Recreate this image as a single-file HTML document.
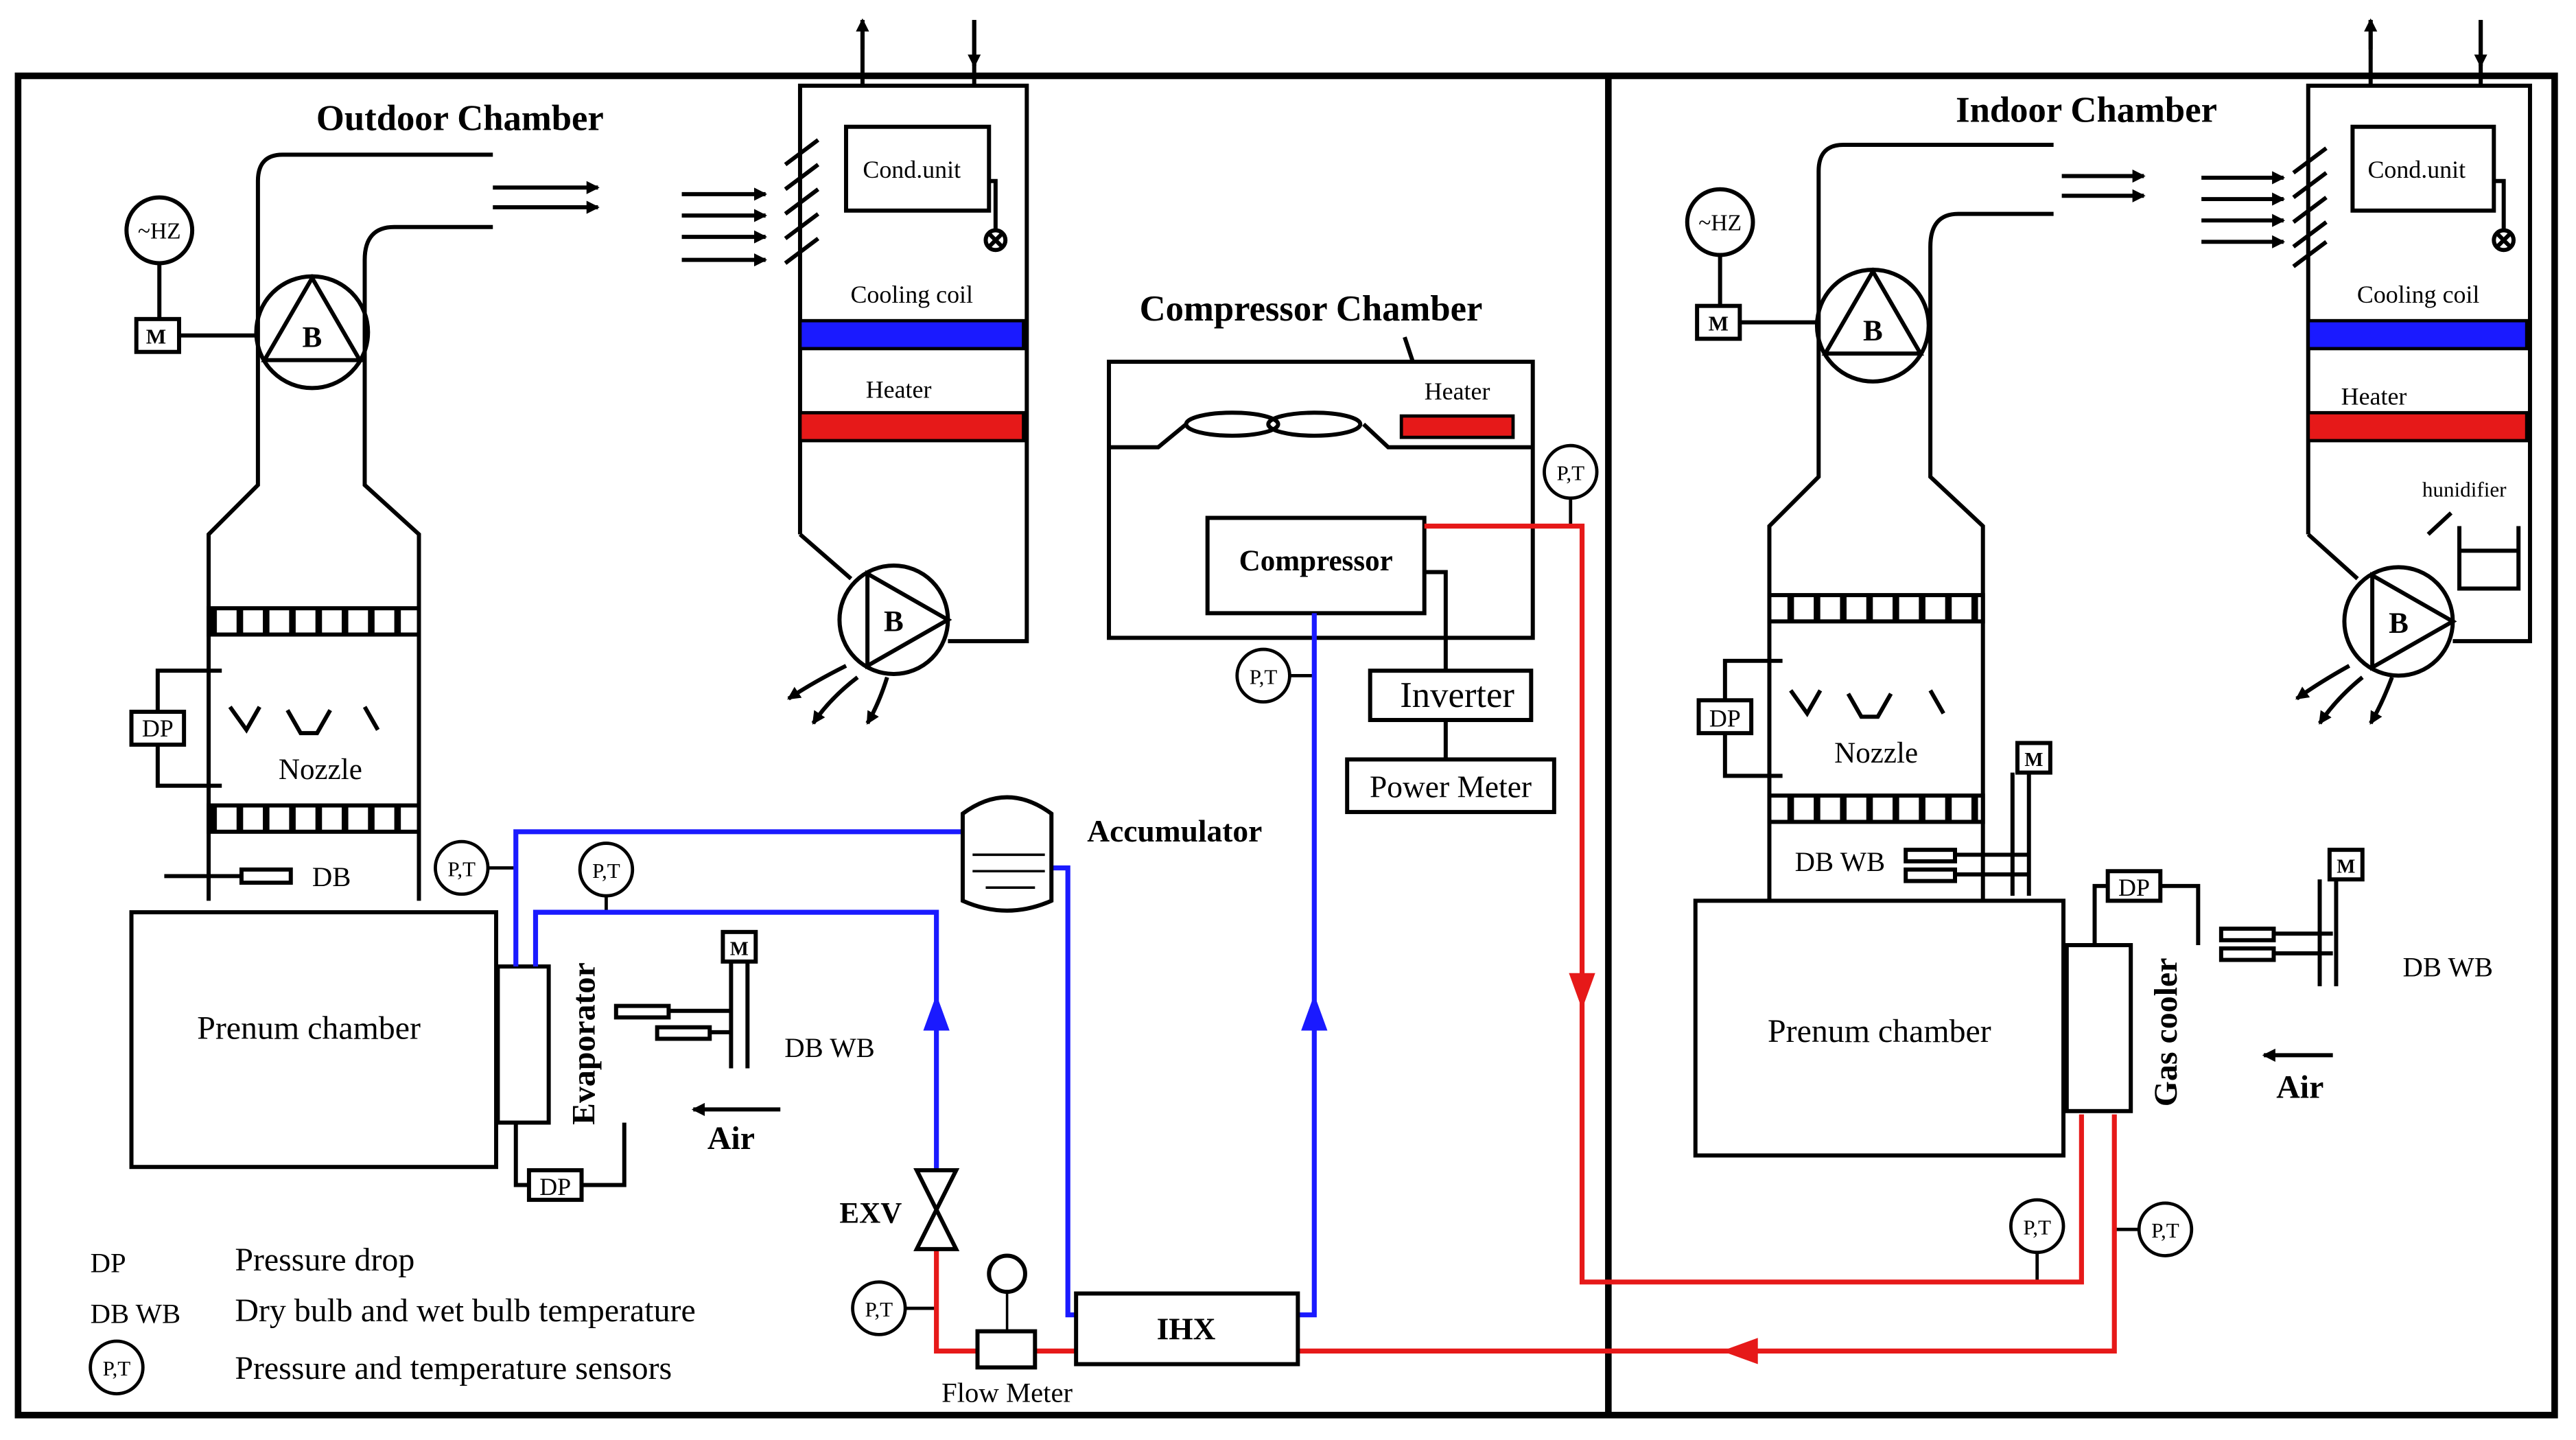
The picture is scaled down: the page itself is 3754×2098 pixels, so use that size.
<!DOCTYPE html>
<html><head><meta charset="utf-8"><style>
html,body{margin:0;padding:0;background:#fff}
svg{display:block}
text{font-family:"Liberation Serif",serif;fill:#000}
.b{font-weight:bold}
</style></head><body>
<svg width="3754" height="2098" viewBox="0 0 1568 876" xmlns="http://www.w3.org/2000/svg">
<defs>
<marker id="ab" markerWidth="8" markerHeight="8" refX="7" refY="4" orient="auto" markerUnits="userSpaceOnUse"><path d="M0,0 L8,4 L0,8 z" fill="#000"/></marker>
<pattern id="grid" width="16" height="16" patternUnits="userSpaceOnUse"><rect width="16" height="16" fill="#fff"/><rect x="0" y="0" width="4" height="16" fill="#000"/></pattern>
</defs>
<g fill="none" stroke="#000" stroke-width="2.5">
<rect x="11" y="46" width="1544" height="815" stroke-width="4"/>
<line x1="979" y1="46" x2="979" y2="861" stroke-width="4"/>
</g>

<!-- OUTDOOR -->
<text x="280" y="79" font-size="22" text-anchor="middle" class="b">Outdoor Chamber</text>
<g fill="none" stroke="#000" stroke-width="2.5">
<path d="M300,94 H172 Q157,94 157,110 V295 L127,325 V548"/>
<path d="M300,138 H240 Q222,138 222,158 V295 L255,325 V548"/>
<circle cx="190" cy="202" r="34"/>
<path d="M190,169 L161,219 L219,219 Z"/>
<circle cx="97" cy="140" r="20"/>
<line x1="97" y1="160" x2="97" y2="194"/>
<rect x="83" y="194" width="26" height="20"/>
<line x1="109" y1="204" x2="156" y2="204"/>
<rect x="127" y="370" width="128" height="16" fill="url(#grid)"/>
<rect x="127" y="490" width="128" height="16" fill="url(#grid)"/>
<path d="M140,430 l10,14 l8,-14 M175,432 l8,14 h10 l8,-14 M222,430 l8,14"/>
<rect x="80" y="433" width="32" height="20"/>
<path d="M96,433 V408 H135 M96,453 V478 H135"/>
<line x1="100" y1="533" x2="147" y2="533"/>
<rect x="147" y="529" width="30" height="8"/>
<rect x="80" y="555" width="222" height="155"/>
<rect x="303" y="588" width="31" height="95"/>
<rect x="322" y="712" width="32" height="18"/>
<path d="M322,721 H314 V683 M354,721 H380 V683"/>
<rect x="375" y="612" width="32" height="7"/><rect x="400" y="625" width="32" height="7"/>
<path d="M407,615 H445 M432,628 H445 M445,585 V650 M455,585 V650"/>
<rect x="440" y="567" width="20" height="18"/>
</g>
<line x1="475" y1="675" x2="422" y2="675" stroke="#000" stroke-width="2.5" marker-end="url(#ab)"/>
<text x="195" y="474" font-size="18" text-anchor="middle">Nozzle</text>
<text x="190" y="539" font-size="17">DB</text>
<text x="96" y="448" font-size="15" text-anchor="middle">DP</text>
<text x="95" y="209" font-size="13" text-anchor="middle" class="b">M</text>
<text x="97" y="145" font-size="14" text-anchor="middle">~HZ</text>
<text x="190" y="211" font-size="18" text-anchor="middle" class="b">B</text>
<text x="188" y="632" font-size="20" text-anchor="middle">Prenum chamber</text>
<text x="362" y="635" font-size="20" text-anchor="middle" class="b" transform="rotate(-90 362 635)">Evaporator</text>
<text x="338" y="727" font-size="15" text-anchor="middle">DP</text>
<text x="450" y="581" font-size="12" text-anchor="middle" class="b">M</text>
<text x="505" y="643" font-size="17" text-anchor="middle">DB WB</text>
<text x="445" y="699" font-size="20" text-anchor="middle" class="b">Air</text>

<!-- legend -->
<text x="55" y="774" font-size="17">DP</text>
<text x="143" y="773" font-size="20">Pressure drop</text>
<text x="55" y="805" font-size="17">DB WB</text>
<text x="143" y="804" font-size="20">Dry bulb and wet bulb temperature</text>
<circle cx="71" cy="832" r="16" fill="none" stroke="#000" stroke-width="2"/>
<text x="71" y="837" font-size="13" text-anchor="middle">P,T</text>
<text x="143" y="839" font-size="20">Pressure and temperature sensors</text>

<!-- cond unit 1 -->
<g fill="none" stroke="#000" stroke-width="2.5">
<path d="M487,325 V52 H625 V390 H577"/>
<path d="M487,325 L518,352"/>
<rect x="515" y="77" width="87" height="51"/>
<path d="M602,110 H606 V140"/>
<circle cx="606" cy="146" r="6"/><path d="M602,142 l8,8 M610,142 l-8,8"/>
<circle cx="544" cy="377" r="33"/>
<path d="M577,377 L528,349 L528,405 Z"/>
<path d="M478,100 l20,-15 M478,115 l20,-15 M478,130 l20,-15 M478,145 l20,-15 M478,160 l20,-15"/>
<path d="M525,52 V12 M593,52 V12"/>
</g>
<path d="M525,30 V12" stroke="#000" stroke-width="2.5" marker-end="url(#ab)"/>
<path d="M593,12 V40" stroke="#000" stroke-width="2.5" marker-end="url(#ab)"/>
<rect x="487" y="195" width="136" height="17" fill="#1a1aff" stroke="#000" stroke-width="2"/>
<rect x="487" y="251" width="136" height="17" fill="#e61919" stroke="#000" stroke-width="2"/>
<text x="555" y="108" font-size="15" text-anchor="middle">Cond.unit</text>
<text x="555" y="184" font-size="15" text-anchor="middle">Cooling coil</text>
<text x="547" y="242" font-size="15" text-anchor="middle">Heater</text>
<text x="544" y="384" font-size="18" text-anchor="middle" class="b">B</text>
<g stroke="#000" stroke-width="2.5" fill="none" marker-end="url(#ab)">
<line x1="300" y1="114" x2="364" y2="114"/><line x1="300" y1="126" x2="364" y2="126"/>
<line x1="415" y1="118" x2="466" y2="118"/><line x1="415" y1="131" x2="466" y2="131"/>
<line x1="415" y1="144" x2="466" y2="144"/><line x1="415" y1="158" x2="466" y2="158"/>
<path d="M515,405 Q495,415 480,425"/><path d="M522,412 Q505,425 495,440"/><path d="M540,412 Q535,428 528,440"/>
</g>

<!-- compressor chamber -->
<text x="798" y="195" font-size="22" text-anchor="middle" class="b">Compressor Chamber</text>
<g fill="none" stroke="#000" stroke-width="2.5">
<path d="M855,205 L860,220"/>
<rect x="675" y="220" width="258" height="168"/>
<path d="M675,272 H705 L722,258 M830,258 L845,272 H933"/>
<ellipse cx="750" cy="258" rx="28" ry="7"/><ellipse cx="800" cy="258" rx="28" ry="7"/>
<rect x="735" y="315" width="132" height="58"/>
<path d="M867,348 H880 V408 M880,438 V462"/>
<rect x="834" y="408" width="98" height="30"/>
<rect x="820" y="462" width="126" height="32"/>
</g>
<rect x="853" y="253" width="68" height="13" fill="#e61919" stroke="#000" stroke-width="2"/>
<text x="887" y="243" font-size="15" text-anchor="middle">Heater</text>
<text x="801" y="347" font-size="18" text-anchor="middle" class="b">Compressor</text>
<text x="887" y="430" font-size="22" text-anchor="middle">Inverter</text>
<text x="883" y="485" font-size="19" text-anchor="middle">Power Meter</text>

<!-- sensor stems -->
<g stroke="#000" stroke-width="2">
<line x1="297" y1="528" x2="314" y2="528"/>
<line x1="369" y1="545" x2="369" y2="555"/>
<line x1="551" y1="796" x2="570" y2="796"/>
<line x1="785" y1="411" x2="800" y2="411"/>
<line x1="956" y1="303" x2="956" y2="320"/>
<line x1="1240" y1="762" x2="1240" y2="780"/>
<line x1="1302" y1="748" x2="1287" y2="748"/>
</g>

<!-- refrigerant lines -->
<g fill="none" stroke-width="3">
<path d="M867,320 H963 V780 H1267 V678" stroke="#e61919"/>
<path d="M1287,678 V822 H790" stroke="#e61919"/>
<path d="M655,822 H630 M595,822 H570 V760" stroke="#e61919"/>
<path d="M570,712 V555 H326 V588" stroke="#1a1aff"/>
<path d="M314,588 V506 H590" stroke="#1a1aff"/>
<path d="M640,528 H650 V800 H655" stroke="#1a1aff"/>
<path d="M790,800 H800 V373" stroke="#1a1aff"/>
</g>
<path d="M963,592 l-8,0 l8,22 l8,-22 z" fill="#e61919"/>
<path d="M1048,822 l22,-8 v16 z" fill="#e61919"/>
<path d="M570,605 l-8,22 h16 z" fill="#1a1aff"/>
<path d="M800,605 l-8,22 h16 z" fill="#1a1aff"/>
<g fill="#fff" stroke="#000" stroke-width="2.5">
<path d="M558,712 H582 L558,760 H582 Z"/>
<rect x="595" y="810" width="35" height="22"/>
<circle cx="613" cy="775" r="11"/>
<rect x="655" y="787" width="135" height="43"/>
<path d="M586,495 Q613,475 640,495 V548 Q613,560 586,548 Z"/>
</g>
<path d="M613,786 V810 M592,520 H636 M592,530 H636 M600,540 H630" stroke="#000" stroke-width="1.5"/>
<text x="722" y="815" font-size="19" text-anchor="middle" class="b">IHX</text>
<text x="715" y="512" font-size="19" text-anchor="middle" class="b">Accumulator</text>
<text x="530" y="744" font-size="18" text-anchor="middle" class="b">EXV</text>
<text x="613" y="853" font-size="17" text-anchor="middle">Flow Meter</text>
<g fill="#fff" stroke="#000" stroke-width="2">
<circle cx="281" cy="528" r="16"/><circle cx="369" cy="529" r="16"/>
<circle cx="535" cy="796" r="16"/><circle cx="769" cy="411" r="16"/>
<circle cx="956" cy="287" r="16"/><circle cx="1240" cy="746" r="16"/><circle cx="1318" cy="748" r="16"/>
</g>
<g font-size="13" text-anchor="middle">
<text x="281" y="533">P,T</text><text x="369" y="534">P,T</text><text x="535" y="801">P,T</text>
<text x="769" y="416">P,T</text><text x="956" y="292">P,T</text><text x="1240" y="751">P,T</text><text x="1318" y="753">P,T</text>
</g>

<!-- INDOOR -->
<text x="1270" y="74" font-size="22" text-anchor="middle" class="b">Indoor Chamber</text>
<g fill="none" stroke="#000" stroke-width="2.5">
<path d="M1250,88 H1122 Q1107,88 1107,104 V290 L1077,320 V548"/>
<path d="M1250,130 H1192 Q1175,130 1175,150 V290 L1207,320 V548"/>
<circle cx="1140" cy="198" r="34"/>
<path d="M1140,165 L1111,215 L1169,215 Z"/>
<circle cx="1047" cy="135" r="20"/>
<line x1="1047" y1="155" x2="1047" y2="186"/>
<rect x="1033" y="186" width="26" height="20"/>
<line x1="1059" y1="196" x2="1106" y2="196"/>
<rect x="1077" y="362" width="130" height="16" fill="url(#grid)"/>
<rect x="1077" y="484" width="130" height="16" fill="url(#grid)"/>
<path d="M1090,420 l10,14 l8,-14 M1125,422 l8,14 h10 l8,-14 M1175,420 l8,14"/>
<rect x="1034" y="426" width="32" height="20"/>
<path d="M1050,426 V402 H1085 M1050,446 V472 H1085"/>
<rect x="1160" y="517" width="30" height="7"/><rect x="1160" y="529" width="30" height="7"/>
<path d="M1190,520 H1235 M1190,532 H1235 M1225,470 V545 M1235,470 V545"/>
<rect x="1228" y="452" width="20" height="18"/>
<rect x="1032" y="548" width="224" height="155"/>
<rect x="1258" y="575" width="39" height="101"/>
<rect x="1283" y="530" width="32" height="18"/>
<path d="M1283,539 H1275 V575 M1315,539 H1338 V575"/>
<rect x="1352" y="565" width="32" height="7"/><rect x="1352" y="577" width="32" height="7"/>
<path d="M1384,568 H1420 M1384,580 H1420 M1412,535 V600 M1422,535 V600"/>
<rect x="1418" y="517" width="20" height="18"/>
</g>
<line x1="1420" y1="642" x2="1378" y2="642" stroke="#000" stroke-width="2.5" marker-end="url(#ab)"/>
<text x="1142" y="464" font-size="18" text-anchor="middle">Nozzle</text>
<text x="1050" y="442" font-size="15" text-anchor="middle">DP</text>
<text x="1046" y="201" font-size="13" text-anchor="middle" class="b">M</text>
<text x="1047" y="140" font-size="14" text-anchor="middle">~HZ</text>
<text x="1140" y="207" font-size="18" text-anchor="middle" class="b">B</text>
<text x="1238" y="466" font-size="12" text-anchor="middle" class="b">M</text>
<text x="1120" y="530" font-size="17" text-anchor="middle">DB WB</text>
<text x="1144" y="634" font-size="20" text-anchor="middle">Prenum chamber</text>
<text x="1325" y="628" font-size="20" text-anchor="middle" class="b" transform="rotate(-90 1325 628)">Gas cooler</text>
<text x="1299" y="545" font-size="15" text-anchor="middle">DP</text>
<text x="1428" y="531" font-size="12" text-anchor="middle" class="b">M</text>
<text x="1490" y="594" font-size="17" text-anchor="middle">DB WB</text>
<text x="1400" y="668" font-size="20" text-anchor="middle" class="b">Air</text>

<!-- cond unit 2 -->
<g fill="none" stroke="#000" stroke-width="2.5">
<path d="M1405,325 V52 H1540 V390 H1493"/>
<path d="M1405,325 L1435,352"/>
<rect x="1432" y="77" width="86" height="51"/>
<path d="M1518,110 H1524 V140"/>
<circle cx="1524" cy="146" r="6"/><path d="M1520,142 l8,8 M1528,142 l-8,8"/>
<circle cx="1460" cy="378" r="33"/>
<path d="M1493,378 L1444,350 L1444,406 Z"/>
<path d="M1396,105 l20,-15 M1396,120 l20,-15 M1396,135 l20,-15 M1396,150 l20,-15 M1396,162 l20,-15"/>
<path d="M1497,320 V358 H1533 V320 M1497,335 H1533"/>
<path d="M1478,325 L1492,312"/>
<path d="M1443,52 V12 M1510,52 V12"/>
</g>
<path d="M1443,30 V12" stroke="#000" stroke-width="2.5" marker-end="url(#ab)"/>
<path d="M1510,12 V40" stroke="#000" stroke-width="2.5" marker-end="url(#ab)"/>
<rect x="1405" y="195" width="133" height="17" fill="#1a1aff" stroke="#000" stroke-width="2"/>
<rect x="1405" y="251" width="133" height="17" fill="#e61919" stroke="#000" stroke-width="2"/>
<text x="1471" y="108" font-size="15" text-anchor="middle">Cond.unit</text>
<text x="1472" y="184" font-size="15" text-anchor="middle">Cooling coil</text>
<text x="1445" y="246" font-size="15" text-anchor="middle">Heater</text>
<text x="1500" y="302" font-size="13" text-anchor="middle">hunidifier</text>
<text x="1460" y="385" font-size="18" text-anchor="middle" class="b">B</text>
<g stroke="#000" stroke-width="2.5" fill="none" marker-end="url(#ab)">
<line x1="1255" y1="107" x2="1305" y2="107"/><line x1="1255" y1="119" x2="1305" y2="119"/>
<line x1="1340" y1="108" x2="1390" y2="108"/><line x1="1340" y1="121" x2="1390" y2="121"/>
<line x1="1340" y1="134" x2="1390" y2="134"/><line x1="1340" y1="147" x2="1390" y2="147"/>
<path d="M1430,405 Q1412,415 1398,425"/><path d="M1438,412 Q1422,425 1412,440"/><path d="M1456,412 Q1450,428 1443,440"/>
</g>
</svg>
</body></html>
